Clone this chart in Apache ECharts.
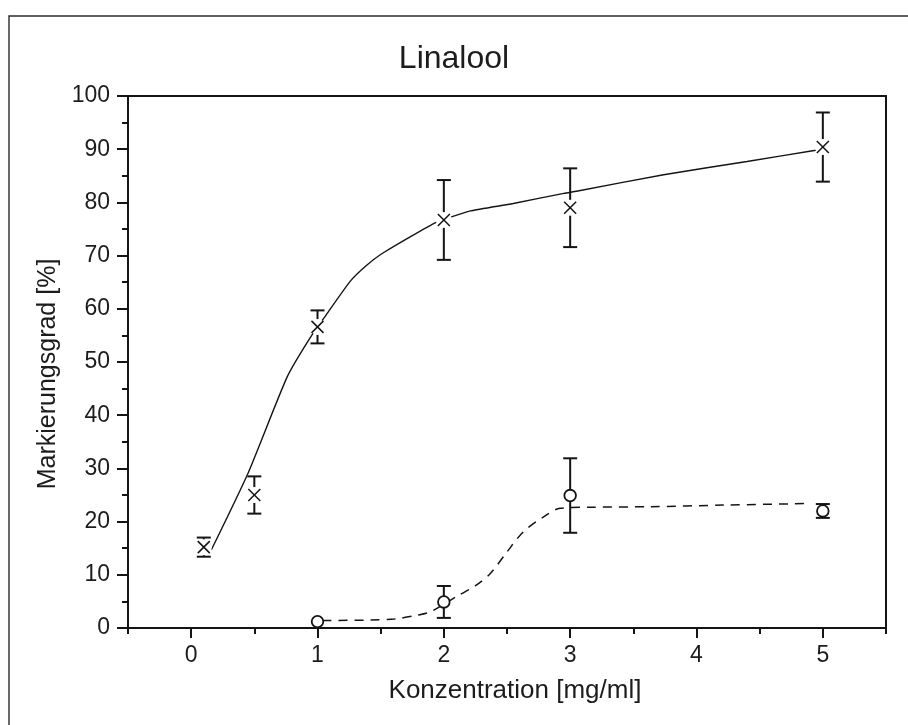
<!DOCTYPE html>
<html>
<head>
<meta charset="utf-8">
<title>Linalool</title>
<script src="https://cdn.jsdelivr.net/npm/echarts@6/dist/echarts.min.js"></script>
<style>
  html, body { margin: 0; padding: 0; background: #fff; }
  #chart { width: 908px; height: 725px; }
</style>
</head>
<body>
<div id="chart"></div>
<script>
// Measured series (mean ± SD)
const crossX = [0.1, 0.5, 1, 2, 3, 5];
const crossY = [15.2, 25.0, 56.6, 76.7, 79.0, 90.4];
const crossErr = [1.8, 3.5, 3.1, 7.5, 7.4, 6.5];

const circleX = [1, 2, 3, 5];
const circleY = [1.2, 4.9, 24.9, 22.0];
const circleErr = [0, 3.0, 7.0, 1.3];

// Fitted curves
const fitSolid = [
  [0.16, 14.7], [0.45, 29.1], [0.76, 47.2], [0.935, 54.3], [1.07, 58.9],
  [1.26, 65.2], [1.38, 68.0], [1.5, 70.2], [1.74, 73.6], [1.935, 76.2],
  [2.05, 77.2], [2.21, 78.4], [2.55, 79.8], [2.95, 81.7], [3.05, 82.1],
  [3.74, 85.2], [4.4, 87.7], [4.92, 89.7], [5.0, 90.0]
];
const fitDashed = [
  [1.04, 1.4], [1.42, 1.5], [1.61, 1.7], [1.79, 2.4], [1.9, 3.1],
  [2.1, 5.9], [2.26, 8.1], [2.37, 10.3], [2.5, 14.3], [2.63, 18.1],
  [2.79, 20.9], [2.92, 22.5], [3.16, 22.7], [3.63, 22.8], [4.21, 23.1],
  [4.9, 23.4]
];

// Axis ticks
const xMajorTicks = [0, 1, 2, 3, 4, 5];
const xMinorTicks = [-0.5, 0.5, 1.5, 2.5, 3.5, 4.5, 5.5];

const INK = '#141414';
const TEXT = '#1c1c1c';
const FONT = 'Liberation Sans, Arial, sans-serif';

const crossData = crossX.map((x, i) => [x, crossY[i], crossErr[i]]);
const circleData = circleX.map((x, i) => [x, circleY[i], circleErr[i]]);

function errorBarChildren(api, x, y, err) {
  const out = [];
  if (err > 0) {
    const top = api.coord([x, y + err]);
    const bot = api.coord([x, y - err]);
    const cap = 7;
    const st = { stroke: INK, lineWidth: 2 };
    out.push({ type: 'line', shape: { x1: top[0], y1: top[1], x2: bot[0], y2: bot[1] }, style: st });
    out.push({ type: 'line', shape: { x1: top[0] - cap, y1: top[1], x2: top[0] + cap, y2: top[1] }, style: st });
    out.push({ type: 'line', shape: { x1: bot[0] - cap, y1: bot[1], x2: bot[0] + cap, y2: bot[1] }, style: st });
  }
  return out;
}

function renderCross(params, api) {
  const x = api.value(0), y = api.value(1), err = api.value(2);
  const c = api.coord([x, y]);
  const children = errorBarChildren(api, x, y, err);
  // white halo leaves a small gap between the marker and the lines
  children.push({ type: 'circle', shape: { cx: c[0], cy: c[1], r: 8 }, style: { fill: '#fff' } });
  const h = 6;
  const st = { stroke: INK, lineWidth: 1.5 };
  children.push({ type: 'line', shape: { x1: c[0] - h, y1: c[1] - h, x2: c[0] + h, y2: c[1] + h }, style: st });
  children.push({ type: 'line', shape: { x1: c[0] - h, y1: c[1] + h, x2: c[0] + h, y2: c[1] - h }, style: st });
  return { type: 'group', children };
}

function renderCircle(params, api) {
  const x = api.value(0), y = api.value(1), err = api.value(2);
  const c = api.coord([x, y]);
  const children = errorBarChildren(api, x, y, err);
  children.push({ type: 'circle', shape: { cx: c[0], cy: c[1], r: 5.8 }, style: { fill: '#fff', stroke: INK, lineWidth: 1.8 } });
  return { type: 'group', children };
}

const chart = echarts.init(document.getElementById('chart'), null, { renderer: 'canvas' });

chart.setOption({
  animation: false,
  backgroundColor: '#fff',
  title: {
    text: 'Linalool',
    left: 'center',
    top: 38,
    textStyle: { fontFamily: FONT, fontSize: 32, fontWeight: 'normal', color: TEXT }
  },
  graphic: [{
    type: 'rect',
    shape: { x: 9, y: 16, width: 1000, height: 1000 },
    style: { fill: 'none', stroke: '#2b2b2b', lineWidth: 1.4 },
    silent: true
  }, {
    type: 'text',
    x: 48,
    y: 374,
    rotation: Math.PI / 2,
    style: {
      text: 'Markierungsgrad [%]',
      fontFamily: FONT,
      fontSize: 25,
      fill: TEXT,
      align: 'center',
      verticalAlign: 'middle'
    },
    silent: true
  }],
  grid: {
    left: 128, right: 22, top: 96, bottom: 97,
    show: true, borderColor: INK, borderWidth: 2
  },
  xAxis: [{
    type: 'value',
    min: -0.5, max: 5.5,
    position: 'bottom',
    name: 'Konzentration [mg/ml]',
    nameLocation: 'middle',
    nameGap: 50,
    nameTextStyle: { fontFamily: FONT, fontSize: 26, color: TEXT, padding: [0, 0, 0, 16] },
    axisLine: { show: true, onZero: false, lineStyle: { color: INK, width: 2 } },
    axisTick: { show: true, customValues: xMajorTicks, length: 10, lineStyle: { color: INK, width: 2 } },
    axisLabel: { customValues: xMajorTicks, margin: 16, fontFamily: FONT, fontSize: 23, color: TEXT },
    splitLine: { show: false }
  }, {
    type: 'value',
    min: -0.5, max: 5.5,
    position: 'bottom',
    axisLine: { show: false, onZero: false },
    axisTick: { show: true, customValues: xMinorTicks, length: 6, lineStyle: { color: INK, width: 2 } },
    axisLabel: { show: false },
    splitLine: { show: false }
  }],
  yAxis: {
    type: 'value',
    min: 0, max: 100, interval: 10,
    axisLine: { show: true, onZero: false, lineStyle: { color: INK, width: 2 } },
    axisTick: { show: true, length: 11, lineStyle: { color: INK, width: 2 } },
    minorTick: { show: true, splitNumber: 2, length: 6, lineStyle: { color: INK, width: 2 } },
    axisLabel: { margin: 18, fontFamily: FONT, fontSize: 23, color: TEXT },
    splitLine: { show: false }
  },
  series: [{
    type: 'line',
    data: fitSolid,
    smooth: 0.2,
    showSymbol: false,
    lineStyle: { color: INK, width: 1.4 },
    z: 2
  }, {
    type: 'line',
    data: fitDashed,
    smooth: 0.3,
    showSymbol: false,
    lineStyle: { color: INK, width: 1.5, type: [9, 7] },
    z: 2
  }, {
    type: 'custom',
    renderItem: renderCross,
    data: crossData,
    encode: { x: 0, y: 1 },
    z: 5
  }, {
    type: 'custom',
    renderItem: renderCircle,
    data: circleData,
    encode: { x: 0, y: 1 },
    z: 5
  }]
});
</script>
</body>
</html>
